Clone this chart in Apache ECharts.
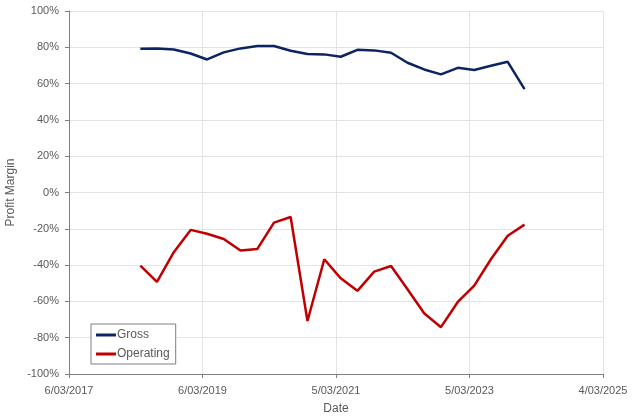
<!DOCTYPE html>
<html>
<head>
<meta charset="utf-8">
<script src="https://cdn.jsdelivr.net/npm/echarts@6/dist/echarts.min.js"></script>
<style>
    html, body { margin: 0; padding: 0; background: #fff; }
    #main { width: 640px; height: 418px; }
</style>
</head>
<body>
<div id="main"></div>
<script>
// quarter-end dates
const dates = [
    '2018-03-31', '2018-06-30', '2018-09-30', '2018-12-31',
    '2019-03-31', '2019-06-30', '2019-09-30', '2019-12-31',
    '2020-03-31', '2020-06-30', '2020-09-30', '2020-12-31',
    '2021-03-31', '2021-06-30', '2021-09-30', '2021-12-31',
    '2022-03-31', '2022-06-30', '2022-09-30', '2022-12-31',
    '2023-03-31', '2023-06-30', '2023-09-30', '2023-12-31'
];
const gross = [
    79.2, 79.4, 78.8, 76.6, 73.3, 77.2, 79.4, 80.7, 80.7, 78.1, 76.3, 76.1,
    74.8, 78.6, 78.3, 77.0, 71.5, 67.8, 65.1, 68.7, 67.5, 69.8, 72.0, 57.0
];
const operating = [
    -40.3, -49.3, -32.9, -20.6, -22.7, -25.6, -32.0, -31.1, -16.6, -13.5, -70.8, -36.8,
    -47.3, -54.2, -43.6, -40.5, -53.3, -66.5, -74.2, -60.3, -51.3, -36.8, -23.8, -17.7
];
const yTicks = [-100, 100, 20];

// x axis counts days from 6 Mar 2017, ticks every 730 days
const axisStart = Date.UTC(2017, 2, 6);
const DAY = 86400000;
function toDays(s) {
    let p = s.split('-');
    return (Date.UTC(+p[0], +p[1] - 1, +p[2]) - axisStart) / DAY;
}
function dayLabel(d) {
    let t = new Date(axisStart + d * DAY);
    let m = t.getUTCMonth() + 1;
    return t.getUTCDate() + '/' + (m < 10 ? '0' + m : m) + '/' + t.getUTCFullYear();
}

const font = 'Liberation Sans';
const gray = '#595959';
const myChart = echarts.init(document.getElementById('main'));
myChart.setOption({
    animation: false,
    textStyle: { fontFamily: font },
    grid: { left: 69, right: 37, top: 11, bottom: 44, outerBoundsMode: 'none', containLabel: false },
    legend: {
        orient: 'vertical',
        left: 91,
        top: 324,
        width: 82,
        padding: [5, 6, 4, 5],
        borderColor: '#7f7f7f',
        borderWidth: 1,
        backgroundColor: '#fff',
        itemWidth: 20,
        itemHeight: 3,
        itemGap: 7,
        icon: 'rect',
        textStyle: { fontSize: 12, color: gray, padding: [0, 0, 0, -4] },
        data: ['Gross', 'Operating']
    },
    xAxis: {
        type: 'value',
        min: 0,
        max: 2920,
        interval: 730,
        name: 'Date',
        nameLocation: 'middle',
        nameGap: 29,
        nameTextStyle: { fontSize: 12, color: gray },
        axisLine: { show: true, onZero: false, lineStyle: { color: '#7f7f7f', width: 1 } },
        axisTick: { show: true, length: 4, lineStyle: { color: '#7f7f7f' } },
        axisLabel: { fontSize: 11, color: gray, margin: 11, formatter: dayLabel },
        splitLine: { show: true, lineStyle: { color: '#e3e3e3' } }
    },
    yAxis: {
        type: 'value',
        min: yTicks[0],
        max: yTicks[1],
        interval: yTicks[2],
        name: 'Profit Margin',
        nameLocation: 'middle',
        nameGap: 51,
        nameTextStyle: { fontSize: 12, color: gray },
        axisLine: { show: true, onZero: false, lineStyle: { color: '#7f7f7f', width: 1 } },
        axisTick: { show: true, length: 4, lineStyle: { color: '#7f7f7f' } },
        axisLabel: { fontSize: 11, color: gray, margin: 10, formatter: v => v + '%' },
        splitLine: { show: true, lineStyle: { color: '#e3e3e3' } }
    },
    series: [
        {
            name: 'Gross',
            type: 'line',
            data: dates.map((d, i) => [toDays(d), gross[i]]),
            showSymbol: false,
            itemStyle: { color: '#0c2461' },
            lineStyle: { color: '#0c2461', width: 2.5 }
        },
        {
            name: 'Operating',
            type: 'line',
            data: dates.map((d, i) => [toDays(d), operating[i]]),
            showSymbol: false,
            itemStyle: { color: '#c00000' },
            lineStyle: { color: '#c00000', width: 2.5 }
        }
    ]
});
</script>
</body>
</html>
